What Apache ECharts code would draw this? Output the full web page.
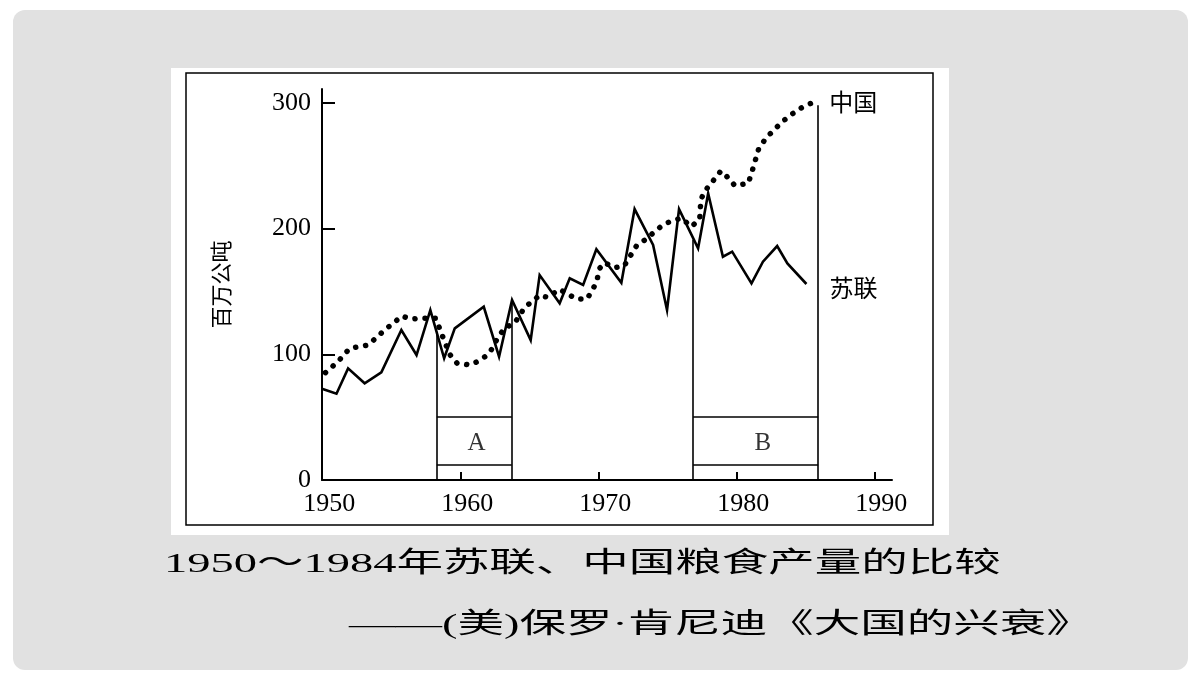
<!DOCTYPE html>
<html>
<head>
<meta charset="utf-8">
<script src="https://cdn.jsdelivr.net/npm/echarts@6/dist/echarts.min.js"></script>
<style>
html,body{margin:0;padding:0;background:#fff;}
#c{width:1200px;height:680px;}
</style>
</head>
<body>
<div id="c"></div>
<script>
// ---- data ----
const sovietYears = [1950.0, 1951.0, 1951.84, 1953.04, 1954.25, 1955.7, 1956.8, 1957.8, 1958.8, 1959.57, 1961.67, 1962.78, 1963.72, 1965.07, 1965.72, 1967.17, 1967.9, 1968.87, 1969.83, 1971.64, 1972.6, 1973.94, 1974.95, 1975.82, 1977.2, 1977.93, 1979.0, 1979.67, 1981.07, 1981.9, 1982.93, 1983.67, 1985.05];
const sovietValues = [72.4, 68.6, 88.8, 76.9, 85.6, 119.3, 99.4, 135.2, 96.8, 120.6, 137.8, 98.1, 143.2, 111.3, 163, 140.5, 160.4, 155.1, 183.5, 156.9, 215.5, 186.9, 135.2, 215.5, 184.3, 228, 177.6, 181.6, 156.4, 173.6, 186.1, 172.3, 155.9];

const chinaYears = [1950.2, 1951.1, 1951.96, 1953.3, 1954.49, 1955.75, 1956.4, 1957.1, 1958.2, 1958.6, 1959.2, 1959.74, 1960.73, 1961.55, 1962.1, 1962.71, 1963.2, 1963.9, 1964.64, 1965.25, 1965.73, 1966.28, 1967.17, 1967.78, 1968.38, 1969.16, 1969.83, 1970.07, 1970.43, 1971.16, 1971.84, 1972.73, 1973.34, 1974.06, 1974.55, 1975.27, 1976.0, 1976.72, 1977.32, 1977.4, 1977.64, 1978.05, 1978.85, 1979.42, 1979.86, 1980.83, 1981.07, 1981.6, 1982.15, 1982.69, 1983.36, 1983.9, 1984.74, 1985.54];
const chinaValues = [85.4, 94.1, 104.7, 107.4, 119.3, 130.4, 128, 128.6, 128.6, 116.7, 100, 92.8, 91.5, 96.2, 101.2, 113.5, 121.1, 124.6, 137.4, 142.6, 147.1, 145.3, 151.7, 147.7, 144, 144, 156.9, 168.4, 172.8, 168.9, 170.2, 186.1, 190.9, 197.5, 202, 206.2, 208.1, 201.5, 207.6, 222.7, 229.3, 234.6, 245.8, 240, 234.1, 236, 243.9, 263.8, 272.3, 278.4, 285.5, 290.3, 296.4, 300.4];

const seriesNames = ['中国', '苏联'];

const xTickLabels = [1950, 1960, 1970, 1980, 1990];
const xTicks = [1960, 1970, 1980, 1990];
const yTickLabels = [0, 100, 200, 300];
const yTicks = [100, 200, 300];
const yAxisName = '百万公吨';

// boxes A and B
const boxNames = ['A', 'B'];
const boxLeftYears = [1958.27, 1976.84];
const boxRightYears = [1963.7, 1985.9];
const boxLeftTops = [118, 191];
const boxRightTops = [142, 298];
const boxRowValues = [50.3, 12.5];
const boxLabelYears = [1961.14, 1981.9];
const boxLabelValue = 29.2;

const titleLines = ['1950～1984年苏联、中国粮食产量的比较', '——(美)保罗·肯尼迪《大国的兴衰》'];

// ---- build ----
const chinaData = chinaYears.map((y, i) => [y, chinaValues[i]]);
const sovietData = sovietYears.map((y, i) => [y, sovietValues[i]]);

const boxSegments = [];
boxNames.forEach((n, i) => {
  const L = boxLeftYears[i], R = boxRightYears[i];
  boxSegments.push([{coord: [L, 0]}, {coord: [L, boxLeftTops[i]]}]);
  boxSegments.push([{coord: [R, 0]}, {coord: [R, boxRightTops[i]]}]);
  boxRowValues.forEach(v => {
    boxSegments.push([{coord: [L, v]}, {coord: [R, v]}]);
  });
});
const boxLabelData = boxNames.map((n, i) => [boxLabelYears[i], boxLabelValue, n]);

const serif = 'Liberation Serif';
const cjk = 'Noto Sans CJK SC';
const mixed = '"Liberation Serif", "Noto Sans CJK SC"';

const chart = echarts.init(document.getElementById('c'), null, {renderer: 'canvas'});
chart.setOption({
  animation: false,
  backgroundColor: '#ffffff',
  graphic: [
    {type: 'rect', z: -10, shape: {x: 13, y: 10, width: 1175, height: 660, r: 12}, style: {fill: '#e1e1e1'}, silent: true},
    {type: 'rect', z: -9, shape: {x: 171, y: 68, width: 778, height: 467}, style: {fill: '#ffffff'}, silent: true},
    {type: 'rect', z: -8, shape: {x: 186, y: 73, width: 747, height: 452}, style: {fill: 'none', stroke: '#000', lineWidth: 1.5}, silent: true},
    {type: 'text', x: 164, y: 565, scaleX: 1.66, silent: true,
      style: {text: titleLines[0], fontSize: 28, fontFamily: mixed, fill: '#000', align: 'left', verticalAlign: 'middle'}},
    {type: 'text', x: 349, y: 626, scaleX: 1.66, silent: true,
      style: {text: titleLines[1], fontSize: 28, fontFamily: mixed, fill: '#000', align: 'left', verticalAlign: 'middle'}}
  ],
  grid: {left: 322, top: 89, width: 570, height: 391},
  xAxis: {
    type: 'value', min: 1949.95, max: 1991.25,
    axisLine: {show: true, lineStyle: {color: '#000', width: 2}},
    axisTick: {show: true, inside: true, length: 8, customValues: xTicks, lineStyle: {color: '#000', width: 2}},
    axisLabel: {customValues: xTickLabels, formatter: v => String(Math.round(v)), color: '#000', fontFamily: serif, fontSize: 26, margin: 11, padding: [0, 0, 0, 13]},
    splitLine: {show: false}
  },
  yAxis: {
    type: 'value', min: 0, max: 311,
    name: yAxisName, nameLocation: 'middle', nameRotate: 90, nameGap: 90,
    nameTextStyle: {color: '#000', fontFamily: cjk, fontSize: 22},
    axisLine: {show: true, lineStyle: {color: '#000', width: 2}},
    axisTick: {show: true, inside: true, length: 13, customValues: yTicks, lineStyle: {color: '#000', width: 2}},
    axisLabel: {customValues: yTickLabels, formatter: v => String(Math.round(v)), color: '#000', fontFamily: serif, fontSize: 26, margin: 11},
    splitLine: {show: false}
  },
  series: [
    {
      name: seriesNames[0], type: 'line', data: chinaData, symbol: 'none', silent: true,
      lineStyle: {color: '#000', width: 5.5, type: [0.1, 10], cap: 'round', join: 'round'},
      endLabel: {show: true, formatter: seriesNames[0], color: '#000', fontFamily: cjk, fontSize: 24, distance: 16}
    },
    {
      name: seriesNames[1], type: 'line', data: sovietData, symbol: 'none', silent: true,
      lineStyle: {color: '#000', width: 2.6, join: 'miter'},
      endLabel: {show: true, formatter: seriesNames[1], color: '#000', fontFamily: cjk, fontSize: 24, distance: 23, offset: [0, 4]},
      markLine: {
        silent: true, symbol: ['none', 'none'], label: {show: false},
        lineStyle: {color: '#000', width: 1.6, type: 'solid'},
        emphasis: {disabled: true},
        data: boxSegments
      }
    },
    {
      name: 'boxLabels', type: 'scatter', data: boxLabelData, symbolSize: 0, silent: true,
      label: {show: true, position: 'inside', formatter: p => p.data[2], color: '#000', fontFamily: serif, fontSize: 25}
    }
  ]
});
</script>
</body>
</html>
